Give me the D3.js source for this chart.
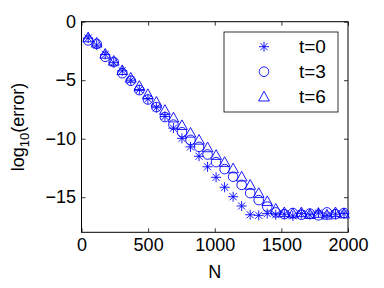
<!DOCTYPE html>
<html>
<head>
<meta charset="utf-8">
<script src="https://cdn.jsdelivr.net/npm/d3@7.9.0/dist/d3.min.js"></script>
<style>
  body { margin: 0; background: #fff; }
  svg { display: block; font-family: "Liberation Sans", Arial, sans-serif; }
</style>
</head>
<body>
<svg id="chart" width="384" height="288"></svg>
<script>
// --- data ---
const N = [50, 114, 178, 242, 306, 370, 434, 498, 562, 626, 690, 754, 818, 882, 946, 1010,
  1074, 1138, 1202, 1266, 1330, 1394, 1458, 1522, 1586, 1650, 1714, 1778, 1842, 1906, 1970];

const errT0 = [-1.4, -2.0, -2.8, -3.5, -4.2, -5.0, -5.8, -6.6, -7.35, -8.1, -9.1, -9.97, -10.7, -11.5,
  -12.4, -13.3, -14.15, -14.96, -15.75, -16.5, -16.55, -16.4, -16.5, -16.45, -16.6, -16.4, -16.5,
  -16.35, -16.55, -16.45, -16.4];
const errT3 = [-1.6, -1.9, -3.0, -3.45, -4.4, -5.05, -5.85, -6.65, -7.3, -8.15, -8.8, -9.45, -10.1,
  -10.7, -11.35, -12.0, -12.6, -13.25, -13.95, -14.65, -15.25, -15.8, -16.3, -16.45, -16.35, -16.5,
  -16.4, -16.55, -16.3, -16.45, -16.35];
const errT6 = [-1.35, -1.8, -2.75, -3.35, -4.15, -4.8, -5.5, -6.2, -6.85, -7.55, -8.2, -8.85, -9.5,
  -10.1, -10.75, -11.4, -12.0, -12.55, -13.25, -13.95, -14.65, -15.35, -16.0, -16.3, -16.4, -16.3,
  -16.45, -16.35, -16.5, -16.3, -16.4];

const seriesNames = ['t=0', 't=3', 't=6'];
const xTicks = [0, 500, 1000, 1500, 2000];
const yTicks = [0, -5, -10, -15];

// --- layout ---
const plotL = 81.5, plotR = 348, plotT = 21.7, plotB = 232.3;
const blue = '#0000ff';
const svg = d3.select('#chart');

const x = d3.scaleLinear().domain([0, 2000]).range([plotL, plotR]);
const y = d3.scaleLinear().domain([-18, 0]).range([plotB, plotT]);

// marker shapes (matlab style)
const star = {
  draw(ctx, size) {
    const r = Math.sqrt(size) / 2, d = r * 0.707;
    ctx.moveTo(-r, 0); ctx.lineTo(r, 0);
    ctx.moveTo(0, -r); ctx.lineTo(0, r);
    ctx.moveTo(-d, -d); ctx.lineTo(d, d);
    ctx.moveTo(-d, d); ctx.lineTo(d, -d);
  }
};
const ring = {
  draw(ctx, size) {
    const r = Math.sqrt(size) / 2;
    ctx.moveTo(r, 0); ctx.arc(0, 0, r, 0, 2 * Math.PI);
  }
};
const tri = {
  draw(ctx, size) {
    const r = Math.sqrt(size) / 2;
    ctx.moveTo(0, -r); ctx.lineTo(r, r * 0.8); ctx.lineTo(-r, r * 0.8); ctx.closePath();
  }
};
const shapes = [star, ring, tri];
const sizes = [100, 92, 115];
const allSeries = [errT0, errT3, errT6];

// --- box ---
svg.append('rect')
  .attr('x', plotL).attr('y', plotT)
  .attr('width', plotR - plotL).attr('height', plotB - plotT)
  .attr('fill', 'none').attr('stroke', '#000').attr('stroke-width', 1);

// --- axes ---
function styleAxis(g) {
  g.select('.domain').remove();
  g.selectAll('line').attr('stroke', '#000').attr('stroke-width', 0.8);
  g.selectAll('text').attr('font-size', 18).attr('fill', '#000')
    .attr('font-family', '"Liberation Sans", Arial, sans-serif');
}

svg.append('g').attr('transform', `translate(0,${plotB})`)
  .call(d3.axisBottom(x).tickValues(xTicks).tickSize(-4).tickPadding(6.4).tickFormat(d3.format('d')))
  .call(styleAxis);
svg.append('g').attr('transform', `translate(0,${plotT})`)
  .call(d3.axisTop(x).tickValues(xTicks).tickSize(-4).tickFormat(''))
  .call(styleAxis);
svg.append('g').attr('transform', `translate(${plotL},0)`)
  .call(d3.axisLeft(y).tickValues(yTicks).tickSize(-4).tickPadding(5.5))
  .call(styleAxis);
svg.append('g').attr('transform', `translate(${plotR},0)`)
  .call(d3.axisRight(y).tickValues(yTicks).tickSize(-4).tickFormat(''))
  .call(styleAxis);

// --- axis labels ---
svg.append('text')
  .attr('x', (plotL + plotR) / 2).attr('y', 278)
  .attr('text-anchor', 'middle').attr('font-size', 18)
  .text('N');

const yl = svg.append('text')
  .attr('transform', `translate(24,${(plotT + plotB) / 2}) rotate(-90)`)
  .attr('text-anchor', 'middle').attr('font-size', 18);
yl.append('tspan').text('log');
yl.append('tspan').attr('font-size', 13).attr('dy', 5).text('10');
yl.append('tspan').attr('dy', -5).text('(error)');

// --- markers ---
allSeries.forEach((vals, si) => {
  const sym = d3.symbol().type(shapes[si]).size(sizes[si]);
  svg.append('g').selectAll('path')
    .data(vals)
    .join('path')
    .attr('transform', (d, i) => `translate(${x(N[i])},${y(d)})`)
    .attr('d', sym)
    .attr('fill', 'none')
    .attr('stroke', blue)
    .attr('stroke-width', 0.9);
});

// --- legend ---
const lg = svg.append('g');
lg.append('rect')
  .attr('x', 224).attr('y', 32).attr('width', 114).attr('height', 80)
  .attr('fill', '#fff').attr('stroke', '#000').attr('stroke-width', 0.8);
seriesNames.forEach((name, i) => {
  const cy = 46.7 + i * 25;
  lg.append('path')
    .attr('transform', `translate(264,${cy})`)
    .attr('d', d3.symbol().type(shapes[i]).size(sizes[i])())
    .attr('fill', 'none').attr('stroke', blue).attr('stroke-width', 0.9);
  lg.append('text')
    .attr('x', 299).attr('y', cy + 6.5)
    .attr('font-size', 19)
    .text(name);
});
</script>
</body>
</html>
